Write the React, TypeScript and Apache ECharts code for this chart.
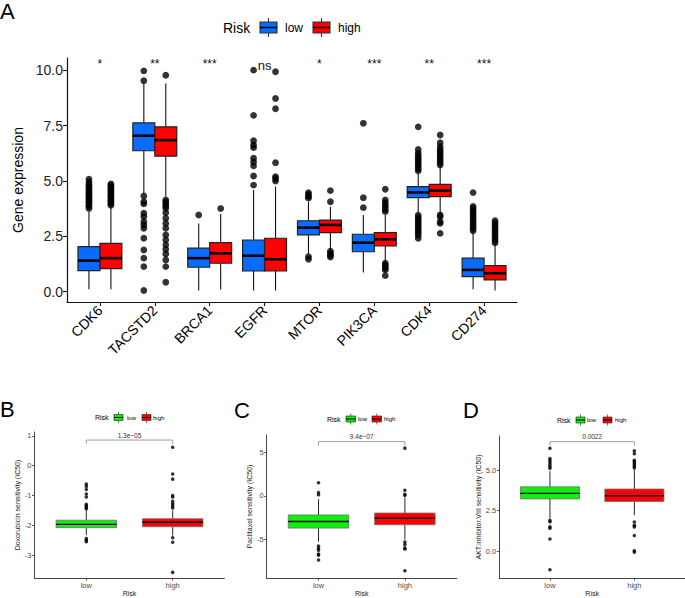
import React, { useEffect, useRef } from "react";
import * as echarts from "echarts";

const FONT = "'Liberation Sans', Arial, Helvetica, sans-serif";

// ---------- Panel A: gene expression ----------
const genes = ["CDK6", "TACSTD2", "BRCA1", "EGFR", "MTOR", "PIK3CA", "CDK4", "CD274"];
const geneSig = ["*", "**", "***", "ns", "*", "***", "**", "***"];
const geneYTicks = [0, 2.5, 5, 7.5, 10];
const geneSigY = 10.3;
// [min, Q1, median, Q3, max]
const geneLowBox = [
  [0.11, 0.95, 1.4, 2.03, 3.61],
  [4.44, 6.36, 7.04, 7.62, 9.4],
  [0.05, 1.1, 1.51, 1.96, 3.08],
  [0.05, 0.93, 1.62, 2.33, 4.59],
  [1.7, 2.56, 2.89, 3.2, 4.06],
  [0.86, 1.8, 2.21, 2.59, 3.46],
  [3.58, 4.24, 4.48, 4.74, 5.31],
  [0.11, 0.68, 0.98, 1.51, 2.66],
];
const geneHighBox = [
  [0.11, 1.04, 1.51, 2.18, 3.83],
  [4.29, 6.12, 6.84, 7.44, 9.4],
  [0.1, 1.28, 1.73, 2.21, 3.5],
  [0.05, 0.93, 1.46, 2.41, 4.74],
  [1.88, 2.66, 3.01, 3.23, 3.83],
  [1.35, 2.06, 2.36, 2.66, 3.46],
  [3.54, 4.29, 4.56, 4.84, 5.64],
  [0.05, 0.53, 0.83, 1.17, 2.14],
];
const geneLowOut = [
  [3.75, 3.85, 3.92, 4.0, 4.08, 4.15, 4.22, 4.3, 4.38, 4.45, 4.52, 4.6, 4.68, 4.75, 4.85, 4.95, 5.08],
  [9.52, 9.97, 4.32, 4.06, 3.96, 3.54, 3.38, 3.16, 3.01, 2.86, 2.41, 1.88, 1.51, 1.13, 0.05],
  [3.46],
  [4.81, 5.22, 5.68, 5.85, 6.02, 6.5, 6.62, 6.81, 7.96, 10.0],
  [4.22, 4.3, 4.38, 4.47, 1.58, 1.46],
  [3.79, 4.24, 7.6],
  [5.45, 5.55, 5.65, 5.75, 5.85, 5.95, 6.05, 6.15, 6.25, 6.42, 7.44, 3.45, 3.35, 3.25, 3.15, 3.05, 2.95, 2.85, 2.75, 2.65, 2.55, 2.41],
  [2.75, 2.85, 2.95, 3.05, 3.15, 3.25, 3.35, 3.45, 3.55, 3.65, 3.75, 3.85, 4.47],
];
const geneHighOut = [
  [3.9, 3.98, 4.05, 4.12, 4.2, 4.28, 4.35, 4.42, 4.5, 4.58, 4.65, 4.72, 4.8, 4.86],
  [9.77, 4.14, 4.05, 3.96, 3.86, 3.76, 3.56, 3.31, 3.08, 2.86, 2.56, 2.33, 2.11, 1.91, 1.7, 1.43, 1.13, 0.42],
  [3.75],
  [4.99, 5.11, 5.19, 5.82, 8.26, 8.72, 9.93],
  [4.06, 4.56, 1.82, 1.72, 1.64, 1.56],
  [3.61, 3.7, 3.82, 3.91, 4.02, 4.14, 4.62, 1.28, 1.2, 1.13, 1.05, 0.98, 0.72],
  [5.72, 5.82, 5.92, 6.02, 6.12, 6.22, 6.32, 6.42, 6.54, 6.72, 7.07, 3.46, 3.38, 3.16, 3.08, 2.63],
  [2.2, 2.3, 2.4, 2.5, 2.6, 2.7, 2.8, 2.9, 3.0, 3.1, 3.2],
];

// ---------- Panels B-D: drug sensitivity ----------
const riskGroups = ["low", "high"];

const doxTitle = "Doxorubicin sensitivity (IC50)";
const doxYTicks = [-3, -2, -1, 0, 1];
const doxLowBox = [-2.33, -2.08, -1.97, -1.83, -1.51];
const doxHighBox = [-2.35, -2.05, -1.9, -1.78, -1.5];
const doxLowOut = [-0.62, -0.7, -0.8, -0.95, -1.05, -1.3, -1.35, -1.4, -1.45, -2.45, -2.5, -2.55];
const doxHighOut = [0.62, -0.28, -0.45, -1.0, -1.05, -1.2, -1.28, -1.35, -1.42, -2.42, -2.57, -3.58];
const doxP = "1.3e\u221205";
const doxBracketY = 0.86;

const pacTitle = "Paclitaxel sensitivity (IC50)";
const pacYTicks = [-5, 0, 5];
const pacLowBox = [-5.25, -3.7, -2.94, -2.19, -0.37];
const pacHighBox = [-5.03, -3.32, -2.56, -1.97, -0.2];
const pacLowOut = [1.51, 0.38, 0.13, -5.77, -6.04, -6.23, -6.68, -6.8, -7.36];
const pacHighOut = [5.48, 0.65, 0.19, 0.06, -5.3, -5.6, -6.0, -6.1, -8.6];
const pacP = "9.4e\u221207";
const pacBracketY = 6.23;

const aktTitle = "AKT.inhibitor.VIII sensitivity (IC50)";
const aktYTicks = [0, 2.5, 5];
const aktLowBox = [2.02, 3.23, 3.57, 3.98, 4.95];
const aktHighBox = [2.22, 3.07, 3.43, 3.84, 5.05];
const aktLowOut = [5.13, 5.22, 5.35, 5.48, 5.6, 5.72, 6.36, 1.9, 1.82, 1.5, 1.42, 0.75, -1.15];
const aktHighOut = [5.15, 5.25, 5.35, 5.45, 5.55, 5.62, 6.02, 6.2, 1.8, 1.6, 1.5, 0.97, 0.02, -0.06];
const aktP = "0.0022";
const aktBracketY = 6.77;

const BLUE = "#0A6CFF";
const RED = "#FF0000";
const GREEN = "#12EE12";

function boxRenderer(width: number, fill: string, boxStroke: string, boxLW: number, whiskLW: number, medLW: number) {
  return (params: any, api: any) => {
    const x = api.value(0);
    const pMin = api.coord([x, api.value(1)]);
    const pQ1 = api.coord([x, api.value(2)]);
    const pMed = api.coord([x, api.value(3)]);
    const pQ3 = api.coord([x, api.value(4)]);
    const pMax = api.coord([x, api.value(5)]);
    const w = api.size([width, 0])[0];
    const cx = pMed[0];
    return {
      type: "group",
      children: [
        { type: "line", shape: { x1: cx, y1: pMax[1], x2: cx, y2: pQ3[1] }, style: { stroke: "#111", lineWidth: whiskLW } },
        { type: "line", shape: { x1: cx, y1: pQ1[1], x2: cx, y2: pMin[1] }, style: { stroke: "#111", lineWidth: whiskLW } },
        {
          type: "rect",
          shape: { x: cx - w / 2, y: pQ3[1], width: w, height: pQ1[1] - pQ3[1] },
          style: { fill, stroke: boxStroke, lineWidth: boxLW },
        },
        { type: "line", shape: { x1: cx - w / 2, y1: pMed[1], x2: cx + w / 2, y2: pMed[1] }, style: { stroke: "#000", lineWidth: medLW } },
      ],
    };
  };
}

function textStyle(text: string, fontSize: number, fill: string, align: string, vAlign: string) {
  return {
    text,
    fontSize,
    fontFamily: FONT,
    fill,
    align,
    verticalAlign: vAlign,
    textAlign: align,
    textVerticalAlign: vAlign,
  };
}

function riskLegend(cfg: {
  titleX: number; y: number; titleFs: number; fs: number; keyX: number[]; textX: number[];
  keyW: number; keyH: number; ext: number; colors: string[]; lw: number;
}) {
  const els: any[] = [];
  els.push({ type: "text", x: cfg.titleX, y: cfg.y, style: textStyle("Risk", cfg.titleFs, "#000", "left", "middle") });
  riskGroups.forEach((g, k) => {
    const kx = cfg.keyX[k];
    const cx = kx + cfg.keyW / 2;
    els.push({
      type: "line",
      shape: { x1: cx, y1: cfg.y - cfg.keyH / 2 - cfg.ext, x2: cx, y2: cfg.y + cfg.keyH / 2 + cfg.ext },
      style: { stroke: "#333", lineWidth: cfg.lw },
    });
    els.push({
      type: "rect",
      shape: { x: kx, y: cfg.y - cfg.keyH / 2, width: cfg.keyW, height: cfg.keyH },
      style: { fill: cfg.colors[k], stroke: "#333", lineWidth: cfg.lw },
    });
    els.push({
      type: "line",
      shape: { x1: kx, y1: cfg.y, x2: kx + cfg.keyW, y2: cfg.y },
      style: { stroke: "#000", lineWidth: cfg.lw * 1.4 },
    });
    els.push({ type: "text", x: cfg.textX[k], y: cfg.y, style: textStyle(g, cfg.fs, "#000", "left", "middle") });
  });
  return els;
}

function panelLetter(letter: string, x: number, y: number) {
  return { type: "text", x, y, style: textStyle(letter, 22, "#000", "left", "top") };
}

function bracketRenderer(label: string) {
  return (params: any, api: any) => {
    const y = api.value(2);
    const a = api.coord([api.value(0), y]);
    const b = api.coord([api.value(1), y]);
    return {
      type: "group",
      children: [
        {
          type: "polyline",
          shape: { points: [[a[0], a[1] + 4], [a[0], a[1]], [b[0], b[1]], [b[0], b[1] + 4]] },
          style: { stroke: "#8a8a8a", lineWidth: 0.8, fill: "none" },
        },
        { type: "text", x: (a[0] + b[0]) / 2, y: a[1] - 1.5, style: textStyle(label, 6.5, "#333", "center", "bottom") },
      ],
    };
  };
}

function bottomAxes(idx: number, yMin: number, yMax: number, yTicks: number[], title: string, nameGap: number, fmt: (v: number) => string) {
  const x = {
    type: "value",
    gridIndex: idx,
    min: -0.6,
    max: 1.6,
    splitLine: { show: false },
    axisLine: { onZero: false, lineStyle: { color: "#333", width: 0.9 } },
    axisTick: { customValues: [0, 1], length: 2.5, lineStyle: { color: "#333", width: 0.8 } },
    axisLabel: {
      customValues: [0, 1],
      formatter: (v: number) => riskGroups[Math.round(v)],
      fontSize: 7.5,
      color: "#4d4d4d",
      fontFamily: FONT,
      margin: 3,
    },
    name: "Risk",
    nameLocation: "middle",
    nameGap: 12,
    nameTextStyle: { fontSize: 7, color: "#222", fontFamily: FONT },
  };
  const y = {
    type: "value",
    gridIndex: idx,
    min: yMin,
    max: yMax,
    splitLine: { show: false },
    axisLine: { show: true, onZero: false, lineStyle: { color: "#333", width: 0.9 } },
    axisTick: { show: true, customValues: yTicks, length: 2.5, lineStyle: { color: "#333", width: 0.8 } },
    axisLabel: {
      customValues: yTicks,
      formatter: fmt,
      fontSize: 7.5,
      color: "#4d4d4d",
      fontFamily: FONT,
      margin: 3,
    },
    name: title,
    nameLocation: "middle",
    nameGap,
    nameTextStyle: { fontSize: 7, color: "#222", fontFamily: FONT },
  };
  return { x, y };
}

function bottomSeries(idx: number, lowBox: number[], highBox: number[], lowOut: number[], highOut: number[], p: string, bracketY: number) {
  return [
    {
      type: "custom",
      xAxisIndex: idx,
      yAxisIndex: idx,
      renderItem: boxRenderer(0.7, GREEN, "#6f6f6f", 0.8, 0.9, 1.4),
      encode: { x: 0, y: [1, 2, 3, 4, 5] },
      data: [[0, ...lowBox]],
      z: 2,
    },
    {
      type: "custom",
      xAxisIndex: idx,
      yAxisIndex: idx,
      renderItem: boxRenderer(0.7, RED, "#6f6f6f", 0.8, 0.9, 1.4),
      encode: { x: 0, y: [1, 2, 3, 4, 5] },
      data: [[1, ...highBox]],
      z: 2,
    },
    {
      type: "scatter",
      xAxisIndex: idx,
      yAxisIndex: idx,
      symbolSize: 3.6,
      itemStyle: { color: "#000" },
      data: [...lowOut.map((v) => [0, v]), ...highOut.map((v) => [1, v])],
      z: 3,
    },
    {
      type: "custom",
      xAxisIndex: idx,
      yAxisIndex: idx,
      renderItem: bracketRenderer(p),
      encode: { x: [0, 1], y: 2 },
      data: [[0, 1, bracketY]],
      z: 3,
    },
  ];
}

export default function App() {
  const ref = useRef<HTMLDivElement>(null);

  useEffect(() => {
    if (!ref.current) return;
    const chart = echarts.init(ref.current, undefined, { renderer: "svg" });
    const idxTicks = genes.map((_, i) => i);

    const b = bottomAxes(1, -3.77, 1.13, doxYTicks, doxTitle, 13, (v) => String(v));
    const c = bottomAxes(2, -9.43, 6.99, pacYTicks, pacTitle, 10, (v) => String(v));
    const d = bottomAxes(3, -1.66, 7.12, aktYTicks, aktTitle, 13, (v) => v.toFixed(1));

    const option: any = {
      animation: false,
      backgroundColor: "#fff",
      textStyle: { fontFamily: FONT },
      grid: [
        { left: 67, top: 58, width: 450, height: 244 },
        { left: 34.5, top: 432, width: 190, height: 147 },
        { left: 266.7, top: 435, width: 190, height: 144 },
        { left: 499.3, top: 436, width: 188, height: 143 },
      ],
      xAxis: [
        {
          type: "value",
          gridIndex: 0,
          min: -0.6,
          max: 7.6,
          splitLine: { show: false },
          axisLine: { onZero: false, lineStyle: { color: "#111", width: 1.2 } },
          axisTick: { customValues: idxTicks, length: 4, lineStyle: { color: "#111", width: 1.1 } },
          axisLabel: {
            customValues: idxTicks,
            formatter: (v: number) => genes[Math.round(v)],
            rotate: 45,
            fontSize: 14,
            color: "#000",
            fontFamily: FONT,
            margin: 6,
          },
        },
        b.x,
        c.x,
        d.x,
      ],
      yAxis: [
        {
          type: "value",
          gridIndex: 0,
          min: -0.47,
          max: 10.55,
          splitLine: { show: false },
          axisLine: { show: true, onZero: false, lineStyle: { color: "#111", width: 1.2 } },
          axisTick: { show: true, customValues: geneYTicks, length: 4, lineStyle: { color: "#111", width: 1.1 } },
          axisLabel: {
            customValues: geneYTicks,
            formatter: (v: number) => v.toFixed(1),
            fontSize: 14,
            color: "#222",
            fontFamily: FONT,
            margin: 4,
          },
          name: "Gene expression",
          nameLocation: "middle",
          nameGap: 34,
          nameTextStyle: { fontSize: 14, color: "#000", fontFamily: FONT },
        },
        b.y,
        c.y,
        d.y,
      ],
      series: [
        {
          type: "custom",
          xAxisIndex: 0,
          yAxisIndex: 0,
          renderItem: boxRenderer(0.4, BLUE, "#222", 1.2, 1.1, 2.6),
          encode: { x: 0, y: [1, 2, 3, 4, 5] },
          data: geneLowBox.map((s, i) => [i - 0.2, ...s]),
          z: 2,
        },
        {
          type: "custom",
          xAxisIndex: 0,
          yAxisIndex: 0,
          renderItem: boxRenderer(0.4, RED, "#222", 1.2, 1.1, 2.6),
          encode: { x: 0, y: [1, 2, 3, 4, 5] },
          data: geneHighBox.map((s, i) => [i + 0.2, ...s]),
          z: 2,
        },
        {
          type: "scatter",
          xAxisIndex: 0,
          yAxisIndex: 0,
          symbolSize: 6.8,
          itemStyle: { color: "#000" },
          data: [
            ...geneLowOut.flatMap((arr, i) => arr.map((v) => [i - 0.2, v])),
            ...geneHighOut.flatMap((arr, i) => arr.map((v) => [i + 0.2, v])),
          ],
          z: 3,
        },
        {
          type: "custom",
          xAxisIndex: 0,
          yAxisIndex: 0,
          renderItem: (params: any, api: any) => {
            const p = api.coord([api.value(0), api.value(1)]);
            const lab = geneSig[params.dataIndex];
            return {
              type: "text",
              x: p[0],
              y: p[1] + (lab === "ns" ? 2 : 0),
              style: textStyle(lab, lab === "ns" ? 13 : 12, "#111", "center", "middle"),
            };
          },
          encode: { x: 0, y: 1 },
          data: genes.map((_, i) => [i, geneSigY]),
          z: 4,
        },
        ...bottomSeries(1, doxLowBox, doxHighBox, doxLowOut, doxHighOut, doxP, doxBracketY),
        ...bottomSeries(2, pacLowBox, pacHighBox, pacLowOut, pacHighOut, pacP, pacBracketY),
        ...bottomSeries(3, aktLowBox, aktHighBox, aktLowOut, aktHighOut, aktP, aktBracketY),
      ],
      graphic: [
        panelLetter("A", 0, 0),
        panelLetter("B", 0, 398),
        panelLetter("C", 234, 399),
        panelLetter("D", 463, 399),
        ...riskLegend({ titleX: 223, y: 27.5, titleFs: 14, fs: 12, keyX: [260, 313], textX: [285, 338], keyW: 17, keyH: 11, ext: 4, colors: [BLUE, RED], lw: 1.1 }),
        ...riskLegend({ titleX: 95, y: 417.5, titleFs: 7, fs: 6, keyX: [114, 142], textX: [127, 153], keyW: 9, keyH: 6, ext: 2.5, colors: [GREEN, RED], lw: 0.7 }),
        ...riskLegend({ titleX: 327, y: 419, titleFs: 7, fs: 6, keyX: [346, 372], textX: [358, 384], keyW: 9.5, keyH: 6, ext: 2.5, colors: [GREEN, RED], lw: 0.7 }),
        ...riskLegend({ titleX: 557, y: 420, titleFs: 7, fs: 6, keyX: [576, 603], textX: [587, 615], keyW: 9, keyH: 6, ext: 2.5, colors: [GREEN, RED], lw: 0.7 }),
      ],
    };

    chart.setOption(option);
    return () => chart.dispose();
  }, []);

  return (
    <div
      ref={ref}
      style={{ position: "absolute", left: 0, top: 0, width: 685, height: 598, background: "#fff" }}
    />
  );
}
